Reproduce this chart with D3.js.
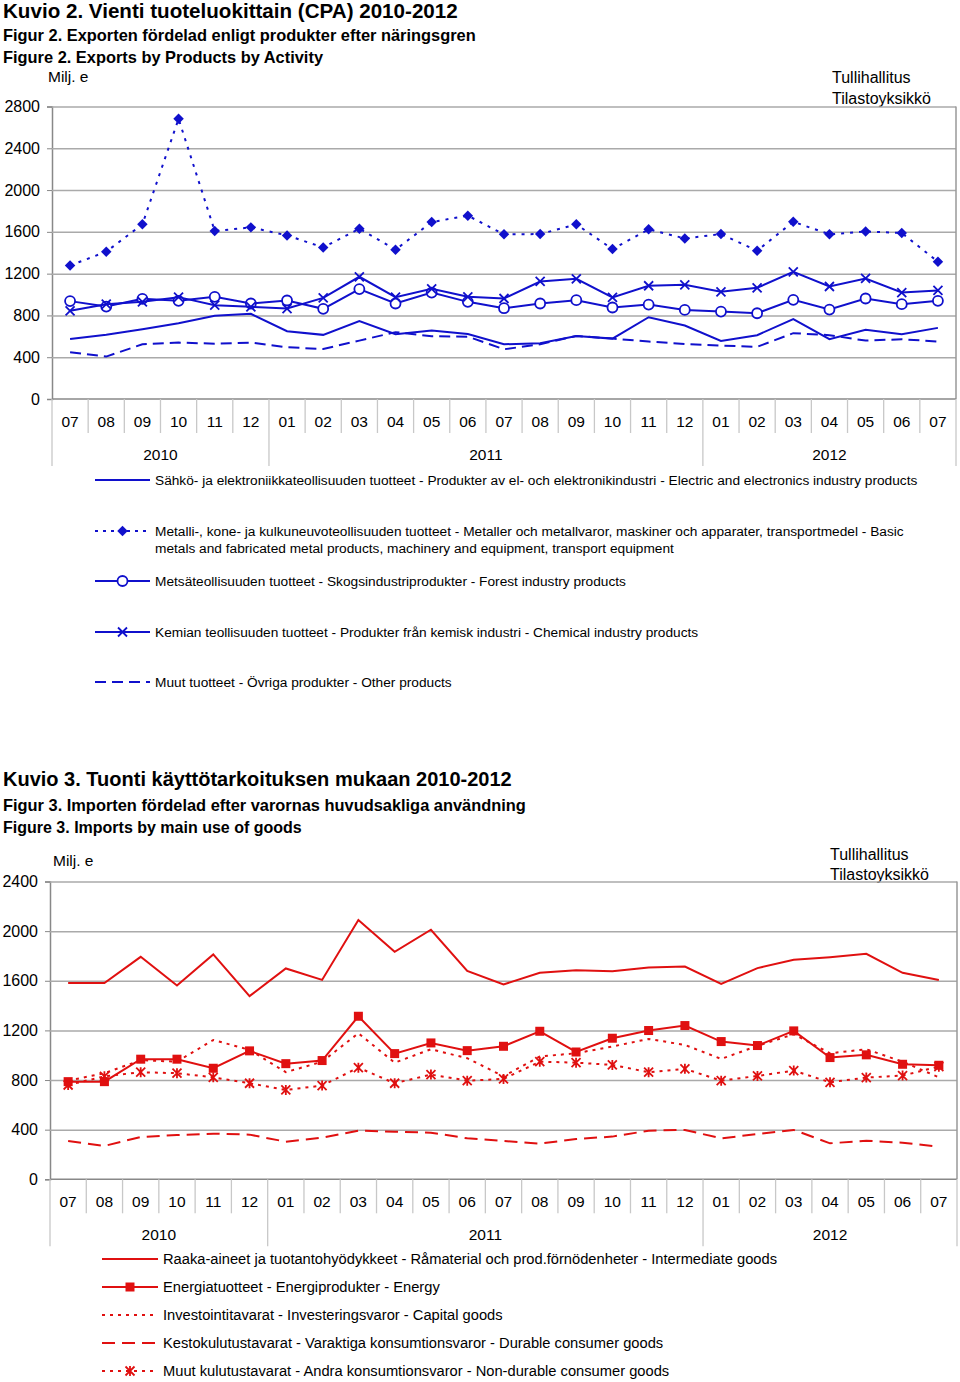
<!DOCTYPE html>
<html><head><meta charset="utf-8">
<script src="https://cdn.jsdelivr.net/npm/d3@7/dist/d3.min.js"></script>
<style>
body{margin:0;background:#fff;}
svg{display:block;font-family:"Liberation Sans",Arial,sans-serif;}
</style></head>
<body>
<svg id="c" width="960" height="1382"></svg>
<script>
const months = ["07","08","09","10","11","12","01","02","03","04","05","06","07","08","09","10","11","12","01","02","03","04","05","06","07"];
const years = [{label:"2010",from:0,to:6},{label:"2011",from:6,to:18},{label:"2012",from:18,to:25}];

// Exports (Milj. e)
const expElectric = [575,614,668,726,796,815,649,614,745,620,655,623,524,534,604,578,783,703,556,611,764,572,662,620,681];
const expMetal    = [1278,1410,1672,2682,1608,1643,1566,1451,1630,1429,1694,1755,1576,1579,1672,1435,1624,1537,1579,1419,1697,1576,1604,1589,1314];
const expForest   = [937,885,959,940,978,914,943,863,1052,914,1019,930,869,914,946,876,904,853,837,821,949,856,962,908,940];
const expChemical = [844,908,930,975,898,882,866,968,1170,975,1055,978,962,1125,1151,972,1084,1093,1026,1064,1218,1077,1154,1019,1039];
const expOther    = [447,406,524,540,530,540,495,479,559,640,601,597,476,524,604,578,550,527,511,499,630,611,559,572,550];
const expTicks = [0,400,800,1200,1600,2000,2400,2800];

// Imports (Milj. e)
const impIntermediate = [1581,1581,1793,1562,1812,1476,1699,1607,2089,1833,2011,1680,1570,1664,1685,1677,1707,1715,1575,1702,1769,1790,1817,1664,1607];
const impEnergy       = [787,787,968,968,895,1035,932,957,1314,1013,1099,1037,1072,1193,1026,1137,1199,1239,1110,1078,1196,981,1003,927,919];
const impCapital      = [795,855,960,948,1123,1043,863,948,1177,940,1048,976,830,989,1016,1070,1131,1083,970,1075,1169,1016,1048,948,822];
const impDurable      = [309,269,341,357,368,360,303,336,392,384,376,330,309,287,325,344,392,398,330,365,398,290,311,295,263];
const impNonDurable   = [760,830,863,855,822,774,720,755,900,774,844,795,809,948,940,922,863,890,795,833,876,782,820,836,908];
const impTicks = [0,400,800,1200,1600,2000,2400];

const expLegend = [
  ["Sähkö- ja elektroniikkateollisuuden tuotteet - Produkter av el- och elektronikindustri - Electric and electronics industry products"],
  ["Metalli-, kone- ja kulkuneuvoteollisuuden tuotteet - Metaller och metallvaror, maskiner och apparater, transportmedel - Basic","metals and fabricated metal products, machinery and equipment, transport equipment"],
  ["Metsäteollisuuden tuotteet - Skogsindustriprodukter - Forest industry products"],
  ["Kemian teollisuuden tuotteet - Produkter från kemisk industri - Chemical industry products"],
  ["Muut tuotteet - Övriga produkter - Other products"]
];
const impLegend = [
  "Raaka-aineet ja tuotantohyödykkeet - Råmaterial och prod.förnödenheter - Intermediate goods",
  "Energiatuotteet - Energiprodukter - Energy",
  "Investointitavarat - Investeringsvaror - Capital goods",
  "Kestokulutustavarat - Varaktiga konsumtionsvaror - Durable consumer goods",
  "Muut kulutustavarat - Andra konsumtionsvaror - Non-durable consumer goods"
];

const BLUE = "#1010cc";
const RED = "#e01010";
const svg = d3.select("#c");

function marker(g, type, cx, cy, color){
  if(type==="diamond"){
    g.append("path").attr("d", d3.symbol().type(d3.symbolDiamond2).size(70)()).attr("transform",`translate(${cx},${cy})`).attr("fill",color);
  } else if(type==="circle"){
    g.append("circle").attr("cx",cx).attr("cy",cy).attr("r",5).attr("fill","#fff").attr("stroke",color).attr("stroke-width",1.8);
  } else if(type==="x"){
    const s=4.5;
    g.append("path").attr("d",`M${cx-s},${cy-s}L${cx+s},${cy+s}M${cx-s},${cy+s}L${cx+s},${cy-s}`).attr("stroke",color).attr("stroke-width",1.8).attr("fill","none");
  } else if(type==="square"){
    g.append("rect").attr("x",cx-4.5).attr("y",cy-4.5).attr("width",9).attr("height",9).attr("fill",color);
  } else if(type==="star"){
    const s=4.5;
    g.append("path").attr("d",`M${cx-s},${cy-s}L${cx+s},${cy+s}M${cx-s},${cy+s}L${cx+s},${cy-s}M${cx},${cy-s-0.5}L${cx},${cy+s+0.5}`).attr("stroke",color).attr("stroke-width",1.8).attr("fill","none");
  }
}

function chart(cfg){
  const x = d3.scaleBand().domain(d3.range(months.length)).range([cfg.left,cfg.right]).padding(0);
  const cx = i => x(i)+x.bandwidth()/2;
  const y = d3.scaleLinear().domain([0,cfg.max]).range([cfg.bottom,cfg.top]);
  const g = svg.append("g");

  const ax = d3.axisLeft(y).tickValues(cfg.ticks).tickSize(5).tickFormat(d3.format("d"));
  const ga = g.append("g").attr("transform",`translate(${cfg.left},0)`).call(ax);
  ga.select(".domain").attr("stroke","#888").attr("stroke-width",1.5);
  ga.selectAll(".tick line").attr("stroke","#888");
  ga.selectAll(".tick text").attr("font-size",16).attr("fill","#000").attr("x",-12).attr("font-family","Liberation Sans, Arial, sans-serif");
  const gg = g.append("g").attr("transform",`translate(${cfg.left},0)`).call(d3.axisLeft(y).tickValues(cfg.ticks.filter(t=>t>0)).tickSize(-(cfg.right-cfg.left)).tickFormat(""));
  gg.select(".domain").remove();
  gg.selectAll(".tick line").attr("stroke","#aaa").attr("stroke-width",1.5);
  g.append("line").attr("x1",cfg.right).attr("x2",cfg.right).attr("y1",cfg.top).attr("y2",cfg.bottom).attr("stroke","#999").attr("stroke-width",1.5);
  g.append("line").attr("x1",cfg.left).attr("x2",cfg.right).attr("y1",cfg.bottom).attr("y2",cfg.bottom).attr("stroke","#888").attr("stroke-width",1.5);

  const xa = g.append("g");
  d3.range(months.length+1).forEach(i=>{
    const xx = i<months.length ? x(i) : cfg.right;
    const isYear = years.some(yy=>yy.from===i) || i===months.length;
    xa.append("line").attr("x1",xx).attr("x2",xx).attr("y1",cfg.bottom).attr("y2",cfg.bottom+(isYear?67:34)).attr("stroke","#c8c8c8").attr("stroke-width",1.3);
  });
  xa.selectAll("text.m").data(months).join("text").attr("class","m")
    .attr("x",(d,i)=>cx(i)).attr("y",cfg.bottom+28).attr("text-anchor","middle").attr("font-size",15.5).text(d=>d);
  xa.selectAll("text.yr").data(years).join("text").attr("class","yr")
    .attr("x",d=>((x(d.from))+(d.to<months.length?x(d.to):cfg.right))/2).attr("y",cfg.bottom+61).attr("text-anchor","middle").attr("font-size",15.5).text(d=>d.label);

  const lg = d3.line().x((d,i)=>cx(i)).y(d=>y(d));
  cfg.series.forEach(s=>{
    g.append("path").datum(s.data).attr("d",lg).attr("fill","none").attr("stroke",cfg.color).attr("stroke-width",2).attr("stroke-dasharray",s.dash||null);
    if(s.marker){
      const mg = g.append("g");
      s.data.forEach((v,i)=>marker(mg,s.marker,cx(i),y(v),cfg.color));
    }
  });
}

function text(x,y,t,size,weight,anchor){
  svg.append("text").attr("x",x).attr("y",y).attr("font-size",size).attr("font-weight",weight||"normal").attr("text-anchor",anchor||"start").text(t);
}

// ===== Figure 2 =====
text(3,18,"Kuvio 2. Vienti tuoteluokittain (CPA) 2010-2012",20.6,"bold");
text(3,41,"Figur 2. Exporten fördelad enligt produkter efter näringsgren",16.4,"bold");
text(3,63,"Figure 2. Exports by Products by Activity",16.4,"bold");
text(48,82,"Milj. e",15.5);
text(832,83,"Tullihallitus",16);
text(832,104,"Tilastoyksikkö",16);

chart({left:52,right:956,top:106.5,bottom:399,max:2800,ticks:expTicks,color:BLUE,
  series:[
    {data:expElectric},
    {data:expMetal,dash:"3,6",marker:"diamond"},
    {data:expForest,marker:"circle"},
    {data:expChemical,marker:"x"},
    {data:expOther,dash:"11,6"}
  ]});

const l1 = [{dash:null,m:null,y:480},{dash:"3,5",m:"diamond",y:531},{dash:null,m:"circle",y:581},{dash:null,m:"x",y:632},{dash:"11,6",m:null,y:682}];
l1.forEach((d,i)=>{
  svg.append("line").attr("x1",95).attr("x2",150).attr("y1",d.y).attr("y2",d.y).attr("stroke",BLUE).attr("stroke-width",2).attr("stroke-dasharray",d.dash);
  if(d.m) marker(svg,d.m,122.5,d.y,BLUE);
  expLegend[i].forEach((t,j)=>text(155,d.y+5+j*16.5,t,13.7));
});

// ===== Figure 3 =====
text(3,786,"Kuvio 3. Tuonti käyttötarkoituksen mukaan 2010-2012",20,"bold");
text(3,811,"Figur 3. Importen fördelad efter varornas huvudsakliga användning",16.4,"bold");
text(3,833,"Figure 3. Imports by main use of goods",16,"bold");
text(53,866,"Milj. e",15.5);
text(830,860,"Tullihallitus",16);
text(830,880,"Tilastoyksikkö",16);

chart({left:50,right:957,top:881.5,bottom:1179.3,max:2400,ticks:impTicks,color:RED,
  series:[
    {data:impIntermediate},
    {data:impEnergy,marker:"square"},
    {data:impCapital,dash:"3,5"},
    {data:impDurable,dash:"13,7"},
    {data:impNonDurable,dash:"3,5",marker:"star"}
  ]});

const l2 = [{dash:null,m:null},{dash:null,m:"square"},{dash:"3,5",m:null},{dash:"13,7",m:null},{dash:"3,5",m:"star"}];
l2.forEach((d,i)=>{
  const yy = 1259+i*28;
  svg.append("line").attr("x1",102).attr("x2",158).attr("y1",yy).attr("y2",yy).attr("stroke",RED).attr("stroke-width",2).attr("stroke-dasharray",d.dash);
  if(d.m) marker(svg,d.m,130,yy,RED);
  text(163,yy+5,impLegend[i],14.7);
});
</script>
</body></html>
